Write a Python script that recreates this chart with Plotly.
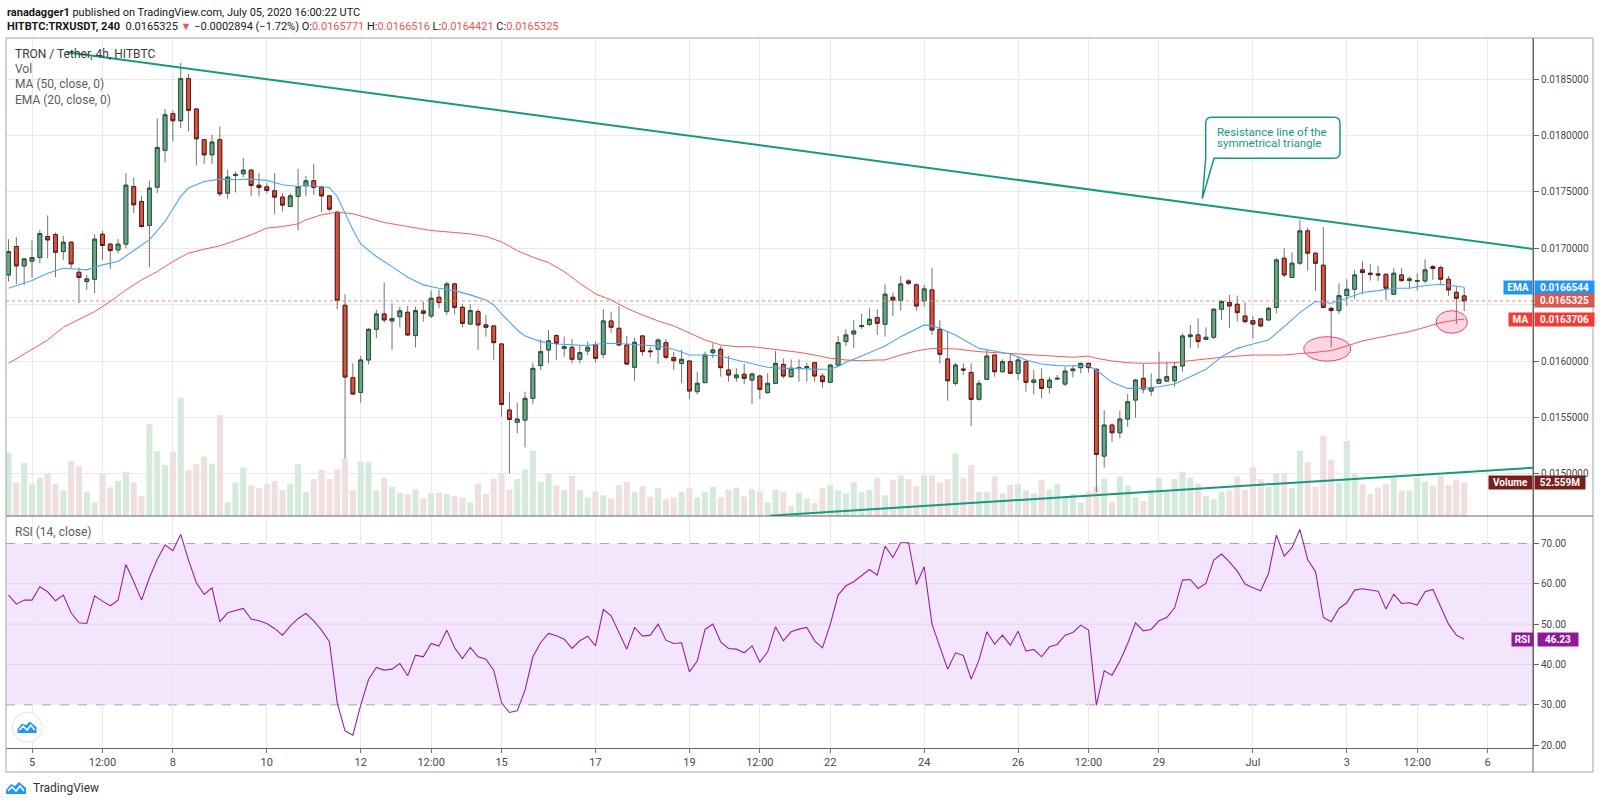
import pandas as pd
import plotly.graph_objects as go

# ---------------- data (4h candles, bar 0 = 2020-06-05 00:00) ----------------
T0 = pd.Timestamp("2020-06-05 00:00")


def bar_time(n):
    return T0 + pd.Timedelta(hours=4 * n)


bars = list(range(-3, 184))

open_ = [
    0.016763, 0.017015, 0.016843, 0.016885, 0.016917, 0.017104, 0.017121, 0.016970, 0.017053, 0.016787,
    0.016704, 0.016725, 0.017124, 0.017036, 0.016985, 0.017036, 0.017547, 0.017414, 0.017201, 0.017541,
    0.017867, 0.018192, 0.018130, 0.018503, 0.018234, 0.017962, 0.017828, 0.017962, 0.017488, 0.017645,
    0.017660, 0.017692, 0.017559, 0.017544, 0.017509, 0.017453, 0.017370, 0.017459, 0.017553, 0.017598,
    0.017541, 0.017464, 0.017320, 0.016494, 0.015852, 0.015722, 0.016009, 0.016281, 0.016417, 0.016355,
    0.016393, 0.016432, 0.016225, 0.016444, 0.016399, 0.016565, 0.016438, 0.016683, 0.016476, 0.016328,
    0.016438, 0.016320, 0.016311, 0.016151, 0.015565, 0.015456, 0.015476, 0.015669, 0.015959, 0.016098,
    0.016225, 0.016112, 0.016121, 0.016015, 0.016089, 0.016142, 0.016059, 0.016355, 0.016290, 0.016142,
    0.015944, 0.016222, 0.016089, 0.016104, 0.016163, 0.016030, 0.015979, 0.016000, 0.015728, 0.015808,
    0.016074, 0.016104, 0.015920, 0.015852, 0.015882, 0.015831, 0.015867, 0.015719, 0.015802, 0.015970,
    0.015861, 0.015932, 0.015941, 0.015985, 0.015867, 0.015811, 0.015964, 0.016172, 0.016240, 0.016305,
    0.016325, 0.016385, 0.016325, 0.016565, 0.016536, 0.016710, 0.016675, 0.016533, 0.016630, 0.016281,
    0.016018, 0.015802, 0.015929, 0.015899, 0.015660, 0.015837, 0.016053, 0.015905, 0.015994, 0.015891,
    0.015994, 0.015811, 0.015837, 0.015766, 0.015840, 0.015796, 0.015914, 0.015941, 0.015979, 0.015926,
    0.015157, 0.015432, 0.015364, 0.015485, 0.015654, 0.015846, 0.015734, 0.015802, 0.015822, 0.015825,
    0.015956, 0.016216, 0.016231, 0.016192, 0.016210, 0.016459, 0.016518, 0.016503, 0.016399, 0.016358,
    0.016373, 0.016364, 0.016476, 0.016911, 0.016740, 0.016867, 0.017154, 0.016956, 0.016849, 0.016467,
    0.016447, 0.016580, 0.016636, 0.016808, 0.016778, 0.016772, 0.016769, 0.016592, 0.016763, 0.016713,
    0.016707, 0.016710, 0.016837, 0.016828, 0.016725, 0.016609, 0.0165771,
]
high = [
    0.017080, 0.017098, 0.016911, 0.017068, 0.017163, 0.017290, 0.017139, 0.017109, 0.017059, 0.016828,
    0.016763, 0.017124, 0.017154, 0.017044, 0.017080, 0.017666, 0.017627, 0.017464, 0.017598, 0.018148,
    0.018234, 0.018222, 0.018642, 0.018544, 0.018243, 0.017967, 0.018006, 0.018080, 0.017695, 0.017680,
    0.017799, 0.017698, 0.017666, 0.017577, 0.017666, 0.017488, 0.017488, 0.017704, 0.017642, 0.017749,
    0.017553, 0.017470, 0.017325, 0.016592, 0.015979, 0.016044, 0.016290, 0.016453, 0.016695, 0.016512,
    0.016482, 0.016488, 0.016482, 0.016527, 0.016624, 0.016634, 0.016704, 0.016695, 0.016503, 0.016503,
    0.016459, 0.016408, 0.016311, 0.016157, 0.015722, 0.015630, 0.015728, 0.015985, 0.016192, 0.016275,
    0.016237, 0.016216, 0.016195, 0.016133, 0.016172, 0.016172, 0.016459, 0.016438, 0.016488, 0.016222,
    0.016207, 0.016231, 0.016127, 0.016201, 0.016195, 0.016083, 0.016098, 0.016000, 0.015905, 0.016083,
    0.016157, 0.016133, 0.016044, 0.015935, 0.015973, 0.015896, 0.015876, 0.015891, 0.016089, 0.016024,
    0.016015, 0.016015, 0.015985, 0.015994, 0.015891, 0.015973, 0.016222, 0.016281, 0.016364, 0.016417,
    0.016467, 0.016459, 0.016680, 0.016607, 0.016754, 0.016725, 0.016689, 0.016675, 0.016828, 0.016364,
    0.016260, 0.015985, 0.015979, 0.015979, 0.015831, 0.016098, 0.016053, 0.016015, 0.016062, 0.016038,
    0.016009, 0.015920, 0.015935, 0.015861, 0.015876, 0.015950, 0.015964, 0.015985, 0.015985, 0.015935,
    0.015565, 0.015447, 0.015559, 0.015707, 0.015840, 0.015973, 0.015891, 0.016083, 0.015994, 0.015994,
    0.016246, 0.016320, 0.016379, 0.016299, 0.016467, 0.016541, 0.016586, 0.016580, 0.016518, 0.016399,
    0.016379, 0.016482, 0.016911, 0.017000, 0.016964, 0.017251, 0.017183, 0.016962, 0.017186, 0.016482,
    0.016689, 0.016725, 0.016808, 0.016882, 0.016858, 0.016843, 0.016769, 0.016822, 0.016822, 0.016749,
    0.016778, 0.016902, 0.016852, 0.016846, 0.016754, 0.016660, 0.0166516,
]
low = [
    0.016704, 0.016683, 0.016675, 0.016737, 0.016867, 0.016911, 0.016743, 0.016896, 0.016822, 0.016512,
    0.016630, 0.016601, 0.016896, 0.016814, 0.016956, 0.017000, 0.017311, 0.017183, 0.016831, 0.017488,
    0.017760, 0.017947, 0.018065, 0.018036, 0.017734, 0.017746, 0.017746, 0.017459, 0.017438, 0.017494,
    0.017630, 0.017459, 0.017459, 0.017488, 0.017302, 0.017325, 0.017364, 0.017157, 0.017459, 0.017473,
    0.017320, 0.017325, 0.016459, 0.015136, 0.015701, 0.015630, 0.015970, 0.016201, 0.016340, 0.016098,
    0.016299, 0.016222, 0.016121, 0.016349, 0.016379, 0.016467, 0.016408, 0.016414, 0.016299, 0.016320,
    0.016098, 0.016216, 0.016009, 0.015506, 0.015003, 0.015358, 0.015234, 0.015615, 0.015920, 0.015979,
    0.016009, 0.016038, 0.015979, 0.015979, 0.016053, 0.015985, 0.016024, 0.016251, 0.016133, 0.015964,
    0.015825, 0.016044, 0.016030, 0.015973, 0.016015, 0.015920, 0.015802, 0.015663, 0.015704, 0.015808,
    0.016024, 0.015861, 0.015817, 0.015817, 0.015793, 0.015618, 0.015663, 0.015713, 0.015802, 0.015846,
    0.015855, 0.015817, 0.015817, 0.015817, 0.015763, 0.015811, 0.015956, 0.016133, 0.016112, 0.016284,
    0.016311, 0.016231, 0.016216, 0.016399, 0.016447, 0.016675, 0.016447, 0.016482, 0.016231, 0.015979,
    0.015648, 0.015781, 0.015876, 0.015423, 0.015648, 0.015837, 0.015861, 0.015900, 0.015882, 0.015831,
    0.015728, 0.015704, 0.015669, 0.015713, 0.015831, 0.015778, 0.015855, 0.015891, 0.015896, 0.014840,
    0.015056, 0.015284, 0.015314, 0.015417, 0.015497, 0.015713, 0.015689, 0.015802, 0.015817, 0.015772,
    0.015905, 0.016112, 0.016112, 0.016186, 0.016195, 0.016364, 0.016290, 0.016349, 0.016334, 0.016201,
    0.016299, 0.016358, 0.016423, 0.016743, 0.016740, 0.016852, 0.016802, 0.016621, 0.016467, 0.016121,
    0.016417, 0.016491, 0.016547, 0.016592, 0.016713, 0.016710, 0.016541, 0.016586, 0.016704, 0.016645,
    0.016624, 0.016689, 0.016719, 0.016669, 0.016577, 0.016328, 0.0164421,
]
close = [
    0.016970, 0.016843, 0.016905, 0.016917, 0.017130, 0.017074, 0.016964, 0.017053, 0.016861, 0.016740,
    0.016728, 0.017080, 0.017024, 0.016979, 0.017036, 0.017559, 0.017385, 0.017192, 0.017533, 0.017893,
    0.018183, 0.018130, 0.018503, 0.018222, 0.017970, 0.017828, 0.017941, 0.017482, 0.017630, 0.017654,
    0.017692, 0.017556, 0.017538, 0.017512, 0.017453, 0.017382, 0.017464, 0.017547, 0.017598, 0.017538,
    0.017464, 0.017346, 0.016536, 0.015858, 0.015707, 0.016009, 0.016281, 0.016417, 0.016364, 0.016376,
    0.016444, 0.016231, 0.016447, 0.016423, 0.016556, 0.016518, 0.016683, 0.016476, 0.016334, 0.016447,
    0.016320, 0.016299, 0.016163, 0.015615, 0.015482, 0.015485, 0.015669, 0.015935, 0.016083, 0.016178,
    0.016157, 0.016127, 0.016015, 0.016074, 0.016121, 0.016024, 0.016355, 0.016299, 0.016142, 0.015973,
    0.016166, 0.016083, 0.016083, 0.016186, 0.016033, 0.016003, 0.016015, 0.015734, 0.015802, 0.016053,
    0.016098, 0.015941, 0.015876, 0.015876, 0.015846, 0.015885, 0.015749, 0.015802, 0.015979, 0.015867,
    0.015935, 0.015941, 0.015950, 0.015867, 0.015817, 0.015964, 0.016163, 0.016231, 0.016266, 0.016314,
    0.016370, 0.016334, 0.016592, 0.016541, 0.016683, 0.016689, 0.016488, 0.016639, 0.016275, 0.016059,
    0.015825, 0.015964, 0.015920, 0.015660, 0.015802, 0.016044, 0.015905, 0.015994, 0.015891, 0.016009,
    0.015811, 0.015831, 0.015757, 0.015831, 0.015846, 0.015911, 0.015929, 0.015979, 0.015941, 0.015172,
    0.015432, 0.015364, 0.015485, 0.015639, 0.015831, 0.015751, 0.015766, 0.015837, 0.015861, 0.015950,
    0.016222, 0.016231, 0.016172, 0.016210, 0.016459, 0.016527, 0.016488, 0.016429, 0.016349, 0.016328,
    0.016311, 0.016467, 0.016896, 0.016763, 0.016867, 0.017154, 0.016956, 0.016867, 0.016476, 0.016447,
    0.016580, 0.016636, 0.016763, 0.016784, 0.016769, 0.016763, 0.016645, 0.016778, 0.016713, 0.016728,
    0.016713, 0.016808, 0.016820, 0.016725, 0.016630, 0.016556, 0.0165325,
]
volume_m = [
    98, 52, 82, 49, 59, 66, 50, 40, 85, 77,
    37, 21, 66, 44, 54, 68, 52, 31, 142, 100,
    79, 99, 183, 71, 80, 92, 81, 156, 21, 52,
    75, 47, 43, 50, 54, 40, 50, 80, 37, 57,
    71, 57, 72, 89, 40, 84, 84, 40, 59, 45,
    36, 34, 41, 28, 35, 36, 34, 31, 29, 21,
    50, 34, 58, 66, 41, 57, 72, 101, 53, 66,
    47, 40, 62, 40, 29, 38, 32, 27, 48, 53,
    37, 46, 30, 43, 26, 29, 37, 43, 29, 37,
    45, 29, 41, 44, 30, 41, 38, 21, 41, 37,
    16, 36, 27, 20, 43, 48, 40, 35, 52, 37,
    40, 59, 32, 56, 63, 57, 46, 63, 63, 52,
    57, 97, 59, 79, 37, 37, 61, 35, 48, 49,
    40, 35, 56, 41, 49, 30, 34, 21, 38, 45,
    58, 22, 61, 47, 29, 23, 40, 59, 38, 57,
    68, 59, 50, 31, 26, 37, 40, 61, 40, 75,
    57, 45, 66, 66, 43, 101, 83, 45, 124, 87,
    52, 116, 66, 49, 34, 44, 49, 59, 39, 39,
    59, 53, 47, 62, 48, 56, 52.559,
]
rsi = [
    57.19, 54.96, 55.95, 55.95, 59.26, 58.02, 55.79, 57.19, 52.81, 50.33,
    50.17, 57.02, 55.70, 54.55, 55.95, 64.79, 60.50, 55.95, 61.49, 66.03,
    69.59, 68.18, 72.23, 65.87, 60.25, 57.36, 59.01, 50.58, 52.81, 53.31,
    53.88, 51.24, 50.83, 50.17, 48.93, 47.27, 49.50, 51.40, 52.64, 50.83,
    48.51, 45.62, 30.50, 23.55, 22.48, 29.92, 36.28, 39.26, 38.60, 38.84,
    40.25, 37.19, 42.31, 41.90, 45.21, 44.55, 48.51, 44.13, 41.49, 44.21,
    41.90, 41.32, 38.60,
    30.50, 28.10, 28.51, 33.64, 41.90, 45.45, 47.69, 47.11, 46.28, 43.97,
    45.87, 47.02, 44.63, 53.64, 52.07, 47.85, 43.80, 49.17, 47.02, 47.27,
    50.00, 46.03, 45.21, 45.37, 38.18, 40.83, 48.68, 50.00, 45.62, 43.97,
    43.80, 42.89, 44.63, 40.58, 43.14, 49.34, 45.87, 48.10, 48.76, 49.17,
    45.87, 44.13, 49.92, 57.19, 59.50, 60.50, 61.98, 63.55, 62.15, 69.34,
    66.53, 70.17, 70.17, 59.83, 64.21, 50.00, 44.38, 38.84, 42.89, 42.23,
    36.36, 41.07, 48.10, 45.04, 47.27,
    44.79, 48.26, 43.31, 43.72, 41.90, 44.38, 44.96, 47.27, 47.93, 49.75,
    48.51, 29.92, 38.43, 37.36, 40.83, 45.21, 50.33, 48.35, 48.68, 50.83,
    51.65, 54.05, 60.91, 61.07, 58.84, 60.08, 65.87, 67.36, 65.45, 63.14,
    59.92, 59.01, 58.26, 62.56, 72.07, 66.86, 68.93, 73.47, 66.03, 62.98,
    51.65, 50.58, 53.88, 55.29, 58.43, 58.76, 58.43, 58.18, 53.72, 57.44,
    55.12, 55.29, 54.71, 58.02, 58.60, 54.13, 50.00, 47.27, 46.23,
]
ema_bar = [-3, 0, 2, 4, 6, 7, 9, 11, 13, 15, 17, 19, 20, 22, 24, 26, 28, 30, 32, 34,
           35, 37, 38, 39, 40, 41, 42, 44, 46, 48, 50, 52, 54, 56, 58, 59, 60, 62, 63, 65,
           67, 69, 71, 72, 74, 76, 78, 80, 82, 84, 86, 88, 90, 92, 94, 96, 98, 100, 102, 103,
           104, 106, 108, 109, 111, 113, 114, 115, 116, 118, 119, 121, 123, 125, 127, 129, 131, 133, 135, 136,
           138, 140, 142, 144, 146, 148, 150, 152, 154, 156, 158, 160, 162, 164, 166, 168, 170, 172, 174, 176,
           178, 180, 182, 183]
ema = [0.016645, 0.016713, 0.016778, 0.016822, 0.016814, 0.016808, 0.016852, 0.016882, 0.016979, 0.017074,
       0.017237, 0.017459, 0.017533, 0.017592, 0.017612, 0.017607, 0.017612, 0.017601, 0.017562, 0.017547,
       0.017556, 0.017547, 0.017538, 0.017459, 0.017311, 0.017163, 0.017038, 0.016926, 0.016837, 0.016743,
       0.016675, 0.016645, 0.016624, 0.016586, 0.016541, 0.016497, 0.016417, 0.016275, 0.016222, 0.016172,
       0.016151, 0.016142, 0.016136, 0.016148, 0.016157, 0.016151, 0.016142, 0.016133, 0.016104, 0.016053,
       0.016053, 0.016044, 0.016009, 0.015979, 0.015944, 0.015935, 0.015935, 0.015926, 0.015929, 0.015950,
       0.015988, 0.016044, 0.016104, 0.016133, 0.016216, 0.016281, 0.016320, 0.016314, 0.016290, 0.016231,
       0.016192, 0.016112, 0.016089, 0.016062, 0.016009, 0.015973, 0.015959, 0.015956, 0.015956, 0.015920,
       0.015811, 0.015757, 0.015757, 0.015772, 0.015796, 0.015861, 0.015926, 0.016038, 0.016112, 0.016151,
       0.016186, 0.016305, 0.016429, 0.016527, 0.016512, 0.016556, 0.016607, 0.016624, 0.016645, 0.016645,
       0.016669, 0.016680, 0.016660, 0.0166544]
ma_bar = [-3, 0, 2, 4, 6, 8, 10, 12, 14, 16, 18, 20, 22, 24, 26, 28, 30, 32, 34, 35,
          37, 39, 41, 43, 45, 48, 51, 54, 56, 58, 60, 62, 64, 66, 68, 70, 71, 72, 74, 76,
          78, 80, 82, 84, 86, 88, 90, 92, 94, 96, 98, 100, 102, 104, 106, 108, 109, 111, 113, 115,
          116, 118, 121, 125, 129, 133, 135, 136, 138, 140, 142, 144, 146, 148, 152, 156, 160, 164, 166, 168,
          170, 172, 174, 176, 178, 180, 182, 183]
ma = [0.015979, 0.016104, 0.016186, 0.016299, 0.016370, 0.016438, 0.016527, 0.016630, 0.016719, 0.016793,
      0.016882, 0.016956, 0.016991, 0.017021, 0.017068, 0.017118, 0.017178, 0.017192, 0.017216, 0.017251,
      0.017296, 0.017320, 0.017305, 0.017266, 0.017228, 0.017192, 0.017157, 0.017139, 0.017127, 0.017104,
      0.017056, 0.016979, 0.016920, 0.016873, 0.016793, 0.016689, 0.016645, 0.016595, 0.016541, 0.016467,
      0.016408, 0.016355, 0.016311, 0.016246, 0.016186, 0.016142, 0.016127, 0.016127, 0.016112, 0.016092,
      0.016077, 0.016053, 0.016024, 0.016009, 0.016003, 0.016009, 0.016009, 0.016053, 0.016089, 0.016112,
      0.016112, 0.016107, 0.016083, 0.016068, 0.016053, 0.016033, 0.016044, 0.016024, 0.016000, 0.015985,
      0.015979, 0.015979, 0.015985, 0.016003, 0.016033, 0.016053, 0.016053, 0.016077, 0.016092, 0.016133,
      0.016178, 0.016207, 0.016231, 0.016260, 0.016299, 0.016340, 0.016364, 0.0163706]

# drawn trend lines (anchor bar, price)
resist_bar = [4.43, 191.8]
resist_price = [0.018737, 0.016993]
support_bar = [94.3, 191.8]
support_price = [0.014629, 0.015054]

tick_dates = ["2020-06-05", "2020-06-06 12:00", "2020-06-08", "2020-06-10", "2020-06-12",
              "2020-06-13 12:00", "2020-06-15", "2020-06-17", "2020-06-19", "2020-06-20 12:00",
              "2020-06-22", "2020-06-24", "2020-06-26", "2020-06-27 12:00", "2020-06-29",
              "2020-07-01", "2020-07-03", "2020-07-04 12:00", "2020-07-06"]
tick_text = ["5", "12:00", "8", "10", "12", "12:00", "15", "17", "19", "12:00",
             "22", "24", "26", "12:00", "29", "Jul", "3", "12:00", "6"]
price_ticks = [0.0150, 0.0155, 0.0160, 0.0165, 0.0170, 0.0175, 0.0180, 0.0185]
price_tick_text = ["0.0150000", "0.0155000", "0.0160000", "", "0.0170000", "0.0175000", "0.0180000", "0.0185000"]
rsi_ticks = [20, 30, 40, 50, 60, 70]
rsi_tick_text = ["20.00", "30.00", "40.00", "50.00", "60.00", "70.00"]

# ---------------- layout geometry (pixels of the 1600x805 page) ----------------
L_PX, R_PX, T_PX, B_PX = 6, 1533, 38, 748
W_PX, H_PX = R_PX - L_PX, B_PX - T_PX


def px(x):
    return (x - L_PX) / W_PX


def py(y):
    return (B_PX - y) / H_PX


SPLIT = py(516)
FRAME_R = px(1593)
FRAME_B = py(772)

times = [bar_time(n) for n in bars]
FONT = "Roboto, Arial, sans-serif"
UP, DOWN = "#6ba583", "#d75442"
UP_BORDER, DOWN_BORDER = "#225437", "#5b1a13"
TEAL = "#159980"

fig = go.Figure()

vol_colors = ["#d6eadc" if c >= o else "#efdfdf" for o, c in zip(open_, close)]
fig.add_trace(go.Bar(x=times, y=volume_m, marker=dict(color=vol_colors, line=dict(width=0)),
                     width=4 * 3600 * 1000 * 0.78, xaxis="x", yaxis="y", hoverinfo="skip"))

# wicks (grey) then bodies with dark borders
fig.add_trace(go.Candlestick(
    x=times, open=open_, high=high, low=low, close=close, xaxis="x", yaxis="y3",
    increasing=dict(line=dict(color="#737375", width=1), fillcolor=UP),
    decreasing=dict(line=dict(color="#737375", width=1), fillcolor=DOWN),
    hoverinfo="skip"))
body_hi = [max(o, c) for o, c in zip(open_, close)]
body_lo = [min(o, c) for o, c in zip(open_, close)]
fig.add_trace(go.Candlestick(
    x=times, open=open_, high=body_hi, low=body_lo, close=close, xaxis="x", yaxis="y3",
    increasing=dict(line=dict(color=UP_BORDER, width=1), fillcolor=UP),
    decreasing=dict(line=dict(color=DOWN_BORDER, width=1), fillcolor=DOWN),
    hoverinfo="skip"))

fig.add_trace(go.Scatter(x=[bar_time(n) for n in ma_bar], y=ma, mode="lines",
                         line=dict(color="#f45a57", width=1), xaxis="x", yaxis="y3", hoverinfo="skip"))
fig.add_trace(go.Scatter(x=[bar_time(n) for n in ema_bar], y=ema, mode="lines",
                         line=dict(color="#4ea5f2", width=1.1), xaxis="x", yaxis="y3", hoverinfo="skip"))
fig.add_trace(go.Scatter(x=[bar_time(n) for n in resist_bar], y=resist_price, mode="lines",
                         line=dict(color=TEAL, width=2), xaxis="x", yaxis="y3", hoverinfo="skip"))
fig.add_trace(go.Scatter(x=[bar_time(n) for n in support_bar], y=support_price, mode="lines",
                         line=dict(color=TEAL, width=2), xaxis="x", yaxis="y3", hoverinfo="skip"))

fig.add_trace(go.Scatter(x=times, y=rsi, mode="lines", line=dict(color="#9a1fa8", width=1.1),
                         xaxis="x2", yaxis="y2", hoverinfo="skip"))

x_range = [bar_time(-3.322), bar_time(191.79)]
grid = "#e9e9ea"
axis_font = dict(family=FONT, size=10, color="#4a4a4a")

fig.update_layout(
    width=1600, height=805,
    margin=dict(l=L_PX, r=1600 - R_PX, t=T_PX, b=805 - B_PX),
    paper_bgcolor="white", plot_bgcolor="white",
    showlegend=False, hovermode=False, dragmode=False,
    font=dict(family=FONT, color="#333"),
    xaxis=dict(domain=[0, 1], anchor="y", type="date", range=x_range, matches="x2",
               tickvals=tick_dates, showticklabels=False, ticks="", showgrid=True,
               gridcolor=grid, zeroline=False, showline=False,
               rangeslider=dict(visible=False)),
    xaxis2=dict(domain=[0, 1], anchor="y2", type="date", range=x_range,
                tickvals=tick_dates, ticktext=tick_text, showgrid=True, gridcolor=grid,
                ticks="outside", ticklen=4, tickcolor="#777", zeroline=False,
                showline=True, linecolor="#666", tickfont=dict(family=FONT, size=11, color="#4a4a4a"),
                rangeslider=dict(visible=False)),
    yaxis=dict(domain=[SPLIT, 1], anchor="x", range=[0, 739], visible=False, fixedrange=True),
    yaxis3=dict(overlaying="y", anchor="x", side="right", range=[0.0146259, 0.0188635],
                tickvals=price_ticks, ticktext=price_tick_text, ticks="outside", ticklen=5,
                tickcolor="#666", showgrid=True, gridcolor=grid, zeroline=False,
                showline=True, linecolor="#666", tickfont=axis_font),
    yaxis2=dict(domain=[0, SPLIT], anchor="x2", side="right", range=[19.3, 76.8],
                tickvals=rsi_ticks, ticktext=rsi_tick_text, ticks="outside", ticklen=5,
                tickcolor="#666", showgrid=False, zeroline=False, showline=True,
                linecolor="#666", tickfont=axis_font),
)

shapes = []
# RSI band and grid
shapes.append(dict(type="rect", xref="x2 domain", x0=0, x1=1, yref="y2", y0=30, y1=70,
                   fillcolor="#f3e6fc", line=dict(width=0), layer="below"))
for v in (40, 50, 60):
    shapes.append(dict(type="line", xref="x2 domain", x0=0, x1=1, yref="y2", y0=v, y1=v,
                       line=dict(color="#e3d3ec", width=1), layer="below"))
for v in (30, 70):
    shapes.append(dict(type="line", xref="x2 domain", x0=0, x1=1, yref="y2", y0=v, y1=v,
                       line=dict(color="#a5a5a5", width=1, dash="dash"), layer="below"))
# last price dotted line
shapes.append(dict(type="line", xref="x domain", x0=0, x1=1, yref="y3", y0=close[-1], y1=close[-1],
                   line=dict(color="#e58b80", width=1, dash="dot")))
# highlight ellipses
shapes.append(dict(type="circle", xref="x", yref="y3", x0=bar_time(162.5), x1=bar_time(168.5),
                   y0=0.015999, y1=0.016215, fillcolor="rgba(236,64,122,0.22)",
                   line=dict(color="#ec407a", width=1)))
shapes.append(dict(type="circle", xref="x", yref="y3", x0=bar_time(179.4), x1=bar_time(183.4),
                   y0=0.016246, y1=0.016446, fillcolor="rgba(236,64,122,0.22)",
                   line=dict(color="#ec407a", width=1)))
# callout bubble
Lx, Rx, Ty, By = px(1205.7), px(1340), py(117.3), py(158.3)
rx, ry = 6 / W_PX, 6 / H_PX
bx, tipx, tipy = px(1214), px(1202.3), py(198.5)
path = (f"M {Lx + rx},{Ty} L {Rx - rx},{Ty} Q {Rx},{Ty} {Rx},{Ty - ry} L {Rx},{By + ry} "
        f"Q {Rx},{By} {Rx - rx},{By} L {bx},{By} L {tipx},{tipy} L {Lx},{By} "
        f"L {Lx},{Ty - ry} Q {Lx},{Ty} {Lx + rx},{Ty} Z")
shapes.append(dict(type="path", xref="paper", yref="paper", path=path, fillcolor="white",
                   line=dict(color=TEAL, width=1.5)))
# frame and separators
shapes.append(dict(type="rect", xref="paper", yref="paper", x0=0, x1=FRAME_R, y0=FRAME_B, y1=1,
                   line=dict(color="#a3a3a3", width=1)))
shapes.append(dict(type="line", xref="paper", yref="paper", x0=0, x1=FRAME_R, y0=SPLIT, y1=SPLIT,
                   line=dict(color="#666", width=1)))
shapes.append(dict(type="line", xref="paper", yref="paper", x0=1, x1=1, y0=FRAME_B, y1=1,
                   line=dict(color="#666", width=1)))
# logo button in RSI pane
shapes.append(dict(type="circle", xref="paper", yref="paper", x0=px(12.3), x1=px(42.3),
                   y0=py(742.3), y1=py(712.3), fillcolor="white", line=dict(color="#e3e3e3", width=1)))


def logo_shapes(x0, y0, s):
    body = [(0, 12), (0, 8), (5, 2), (9, 4), (13, 0), (20, 6), (20, 12)]
    zig = [(2, 9), (6, 5), (10, 9), (14, 4), (18, 9)]
    d1 = "M " + " L ".join(f"{px(x0 + a * s)},{py(y0 + b * s)}" for a, b in body) + " Z"
    d2 = "M " + " L ".join(f"{px(x0 + a * s)},{py(y0 + b * s)}" for a, b in zig)
    return [dict(type="path", xref="paper", yref="paper", path=d1, fillcolor="#2196f3", line=dict(width=0)),
            dict(type="path", xref="paper", yref="paper", path=d2, line=dict(color="white", width=1.6))]


shapes += logo_shapes(17.5, 721.5, 0.95)
shapes += logo_shapes(6, 782, 1.0)
fig.update_layout(shapes=shapes)

ann = []


def text_ann(x_px, y_px, text, size=11, color="#333", anchor="left"):
    ann.append(dict(xref="paper", yref="paper", x=px(x_px), y=py(y_px), xanchor=anchor,
                    yanchor="middle", text=text, showarrow=False, align="left",
                    font=dict(family=FONT, size=size, color=color)))


RED = "#ef5350"
text_ann(5, 12, "<b>ranadagger1</b> published on TradingView.com, July 05, 2020 16:00:22 UTC", 11, "#131722")
text_ann(5, 26, (f"<b>HITBTC:TRXUSDT, 240</b>  {close[-1]:.7f} <span style='color:{RED}'>▼</span> "
                 f"−0.0002894 (−1.72%) O:<span style='color:{RED}'>{open_[-1]:.7f}</span> "
                 f"H:<span style='color:{RED}'>{high[-1]:.7f}</span> "
                 f"L:<span style='color:{RED}'>{low[-1]:.7f}</span> "
                 f"C:<span style='color:{RED}'>{close[-1]:.7f}</span>"), 11, "#131722")
text_ann(13, 54, "TRON / Tether, 4h, HITBTC", 12, "#3a3a3a")
text_ann(13, 69, "Vol", 12, "#5d5d5d")
text_ann(13, 84, "MA (50, close, 0)", 12, "#5d5d5d")
text_ann(13, 100, "EMA (20, close, 0)", 12, "#5d5d5d")
text_ann(13, 532, "RSI (14, close)", 12, "#5d5d5d")
text_ann(31, 788, "TradingView", 12, "#333")
text_ann(1215, 132.3, "Resistance line of the", 11.5, TEAL)
text_ann(1215, 142.6, "symmetrical triangle", 11.5, TEAL)


def tag(text, y, yref, bg, left_px, right_px):
    ann.append(dict(xref="paper", x=px(left_px), xanchor="left", yref=yref, y=y, yanchor="middle",
                    text=f"<b>{text}</b>", showarrow=False, bgcolor=bg, width=right_px - left_px,
                    height=13, borderpad=0, align="center",
                    font=dict(family=FONT, size=10, color="white")))


tag("EMA", ema[-1], "y3", "#2196f3", 1503, 1531)
tag(f"{ema[-1]:.7f}", ema[-1], "y3", "#2196f3", 1534, 1593)
tag(f"{close[-1]:.7f}", close[-1], "y3", "#d9574b", 1534, 1593)
tag("MA", ma[-1], "y3", "#f23b36", 1508, 1531)
tag(f"{ma[-1]:.7f}", ma[-1], "y3", "#f23b36", 1534, 1593)
tag("Volume", volume_m[-1], "y", "#7c1e1b", 1488, 1531)
tag(f"{volume_m[-1]:.3f}M", volume_m[-1], "y", "#7c1e1b", 1534, 1584)
tag("RSI", rsi[-1], "y2", "#8e1a99", 1511, 1532)
tag(f"{rsi[-1]:.2f}", rsi[-1], "y2", "#8e1a99", 1537, 1577)

fig.update_layout(annotations=ann)

fig.write_html("out.html", config={"displayModeBar": False, "staticPlot": True},
               post_script="document.body.style.margin='0';document.body.style.overflow='hidden';")
